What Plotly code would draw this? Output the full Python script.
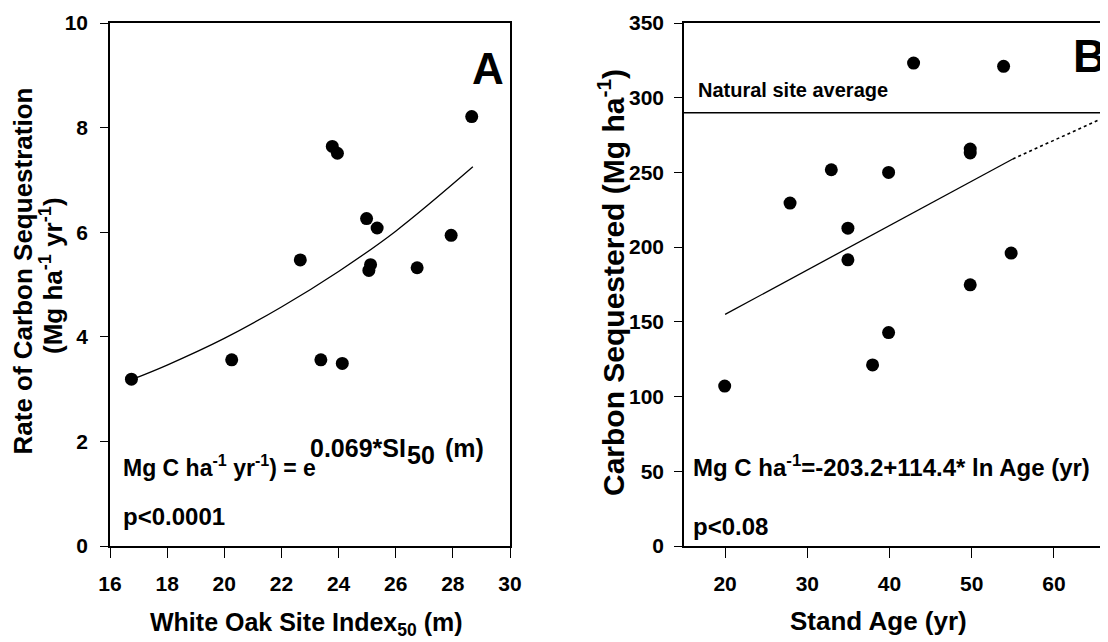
import plotly.graph_objects as go

# Page is 1108x642; the HTML body keeps its default 8px margin, so the figure
# is drawn 8px in from the top-left corner.
PAGE_W, PAGE_H = 1108, 642
OFF = 8
W, H = PAGE_W - OFF, PAGE_H - OFF
FONT = "Liberation Sans, Arial, sans-serif"

# ---------------- data ----------------
# Panel A: White oak site index vs rate of carbon sequestration
si_index = [16.75, 20.26, 22.66, 23.38, 23.78, 23.96, 24.13, 24.98, 25.06, 25.12, 25.35, 26.75, 27.94, 28.66]
seq_rate = [3.19, 3.56, 5.47, 3.56, 7.64, 7.51, 3.49, 6.26, 5.27, 5.38, 6.08, 5.32, 5.94, 8.21]
fit_a_x = [16.75, 18, 20, 22, 24, 26, 28.7]
fit_a_y = [3.18, 3.46, 3.97, 4.57, 5.25, 6.02, 7.25]

# Panel B: stand age vs carbon sequestered
stand_age = [19.95, 27.9, 32.92, 34.94, 34.94, 37.94, 39.89, 39.89, 42.93, 49.82, 49.82, 49.82, 53.88, 54.8]
carbon = [107, 229.5, 251.8, 212.7, 191.5, 121.2, 142.8, 250, 323.2, 265.6, 263, 174.8, 321, 196]
fit_b_x = [20, 55]
fit_b_y = [155, 259]
ext_b_x = [55, 66.6]
ext_b_y = [259, 288]
natural_avg = 290

a_xticks = [16, 18, 20, 22, 24, 26, 28, 30]
a_yticks = [0, 2, 4, 6, 8, 10]
b_xticks = [20, 30, 40, 50, 60]
b_yticks = [0, 50, 100, 150, 200, 250, 300, 350]


def px(x):
    return (x - OFF) / W


def py(y):
    return 1 - (y - OFF) / H


# layout in page pixels
L_A, R_A = 110.0, 510.0
L_B = 684.0
B_PX_PER_YR = 8.22
TOP, BOTTOM = 23.0, 546.0
b_xmax = 15 + (PAGE_W - L_B) / B_PX_PER_YR

fig = go.Figure()

mk = dict(color="black", size=13, line=dict(width=0))
fig.add_trace(go.Scatter(x=si_index, y=seq_rate, mode="markers", marker=mk,
                         xaxis="x", yaxis="y", showlegend=False))
fig.add_trace(go.Scatter(x=fit_a_x, y=fit_a_y, mode="lines", line=dict(color="black", width=1.3, shape="spline"),
                         xaxis="x", yaxis="y", showlegend=False))
fig.add_trace(go.Scatter(x=stand_age, y=carbon, mode="markers", marker=mk,
                         xaxis="x2", yaxis="y2", showlegend=False))
fig.add_trace(go.Scatter(x=fit_b_x, y=fit_b_y, mode="lines", line=dict(color="black", width=1.3),
                         xaxis="x2", yaxis="y2", showlegend=False))
fig.add_trace(go.Scatter(x=ext_b_x, y=ext_b_y, mode="lines", line=dict(color="black", width=1.6, dash="dot"),
                         xaxis="x2", yaxis="y2", showlegend=False))

fig.add_shape(type="line", xref="x2 domain", yref="y2", x0=0, x1=1, y0=natural_avg, y1=natural_avg,
              line=dict(color="black", width=1.5))

tickfont = dict(family=FONT, size=21, color="black", weight="bold")
axcommon = dict(showgrid=False, zeroline=False, showline=True, linecolor="black", linewidth=1.5,
                ticks="outside", tickcolor="black", tickwidth=1.3, tickfont=tickfont, automargin=False)

fig.update_layout(
    width=W, height=H, margin=dict(l=0, r=0, t=0, b=0, autoexpand=False),
    paper_bgcolor="white", plot_bgcolor="white",
    font=dict(family=FONT, color="black"),
    xaxis=dict(domain=[px(L_A), px(R_A)], range=[16, 30], tickvals=a_xticks,
               mirror=True, ticklen=10, ticklabelstandoff=8, anchor="y", **axcommon),
    yaxis=dict(domain=[py(BOTTOM), py(TOP)], range=[0, 10], tickvals=a_yticks,
               mirror=True, ticklen=8, ticklabelstandoff=8, anchor="x", **axcommon),
    xaxis2=dict(domain=[px(L_B), 1.0], range=[15, b_xmax], tickvals=b_xticks,
                mirror=True, ticklen=10, ticklabelstandoff=8, anchor="y2", **axcommon),
    yaxis2=dict(domain=[py(BOTTOM), py(TOP)], range=[0, 350], tickvals=b_yticks,
                mirror=False, ticklen=8, ticklabelstandoff=6, anchor="x2", **axcommon),
)


def ann(text, x, y, size, xanchor="left", yanchor="middle", angle=0):
    fig.add_annotation(text=text, x=px(x), y=py(y), xref="paper", yref="paper",
                       xanchor=xanchor, yanchor=yanchor, showarrow=False, textangle=angle,
                       font=dict(family=FONT, size=size, color="black", weight="bold"))


# panel letters
ann("A", R_A - 4, 68.5, 44, xanchor="right")
ann("B", 1071, 56, 46, xanchor="left")

# panel A equation (baselines at about 477 and 526)
ex = L_A + 11
ann("Mg C ha<sup>-1</sup> yr<sup>-1</sup>) = e", ex, 483, 23, yanchor="bottom")
ann("0.069*SI", ex + 187, 464, 25, yanchor="bottom")
ann("50", ex + 284, 471, 25, yanchor="bottom")
ann("(m)", ex + 322, 464, 25, yanchor="bottom")
ann("p&lt;0.0001", ex, 532, 24, yanchor="bottom")

# panel B equation
bx = L_B + 7
ann("Mg C ha<sup>-1</sup>=-203.2+114.4* ln Age (yr)", bx, 483, 24, yanchor="bottom")
ann("p&lt;0.08", bx, 542, 24, yanchor="bottom")
ann("Natural site average", L_B + 12, 103, 20, yanchor="bottom")

# axis titles
ann("White Oak Site Index<sub>50</sub> (m)", (L_A + R_A) / 2 - 4, 606, 25, xanchor="center", yanchor="top")
ann("Stand Age (yr)", 878, 621, 26, xanchor="center", yanchor="middle")
ann("Rate of Carbon Sequestration", 39.5, 271, 26, xanchor="right", yanchor="middle", angle=-90)
ann("(Mg ha<sup>-1</sup> yr<sup>-1</sup>)", 69.5, 276, 26, xanchor="right", yanchor="middle", angle=-90)
ann("Carbon Sequestered (Mg ha<sup>-1</sup>)", 632, 283, 30, xanchor="right", yanchor="middle", angle=-90)

fig.write_html("out.html")
